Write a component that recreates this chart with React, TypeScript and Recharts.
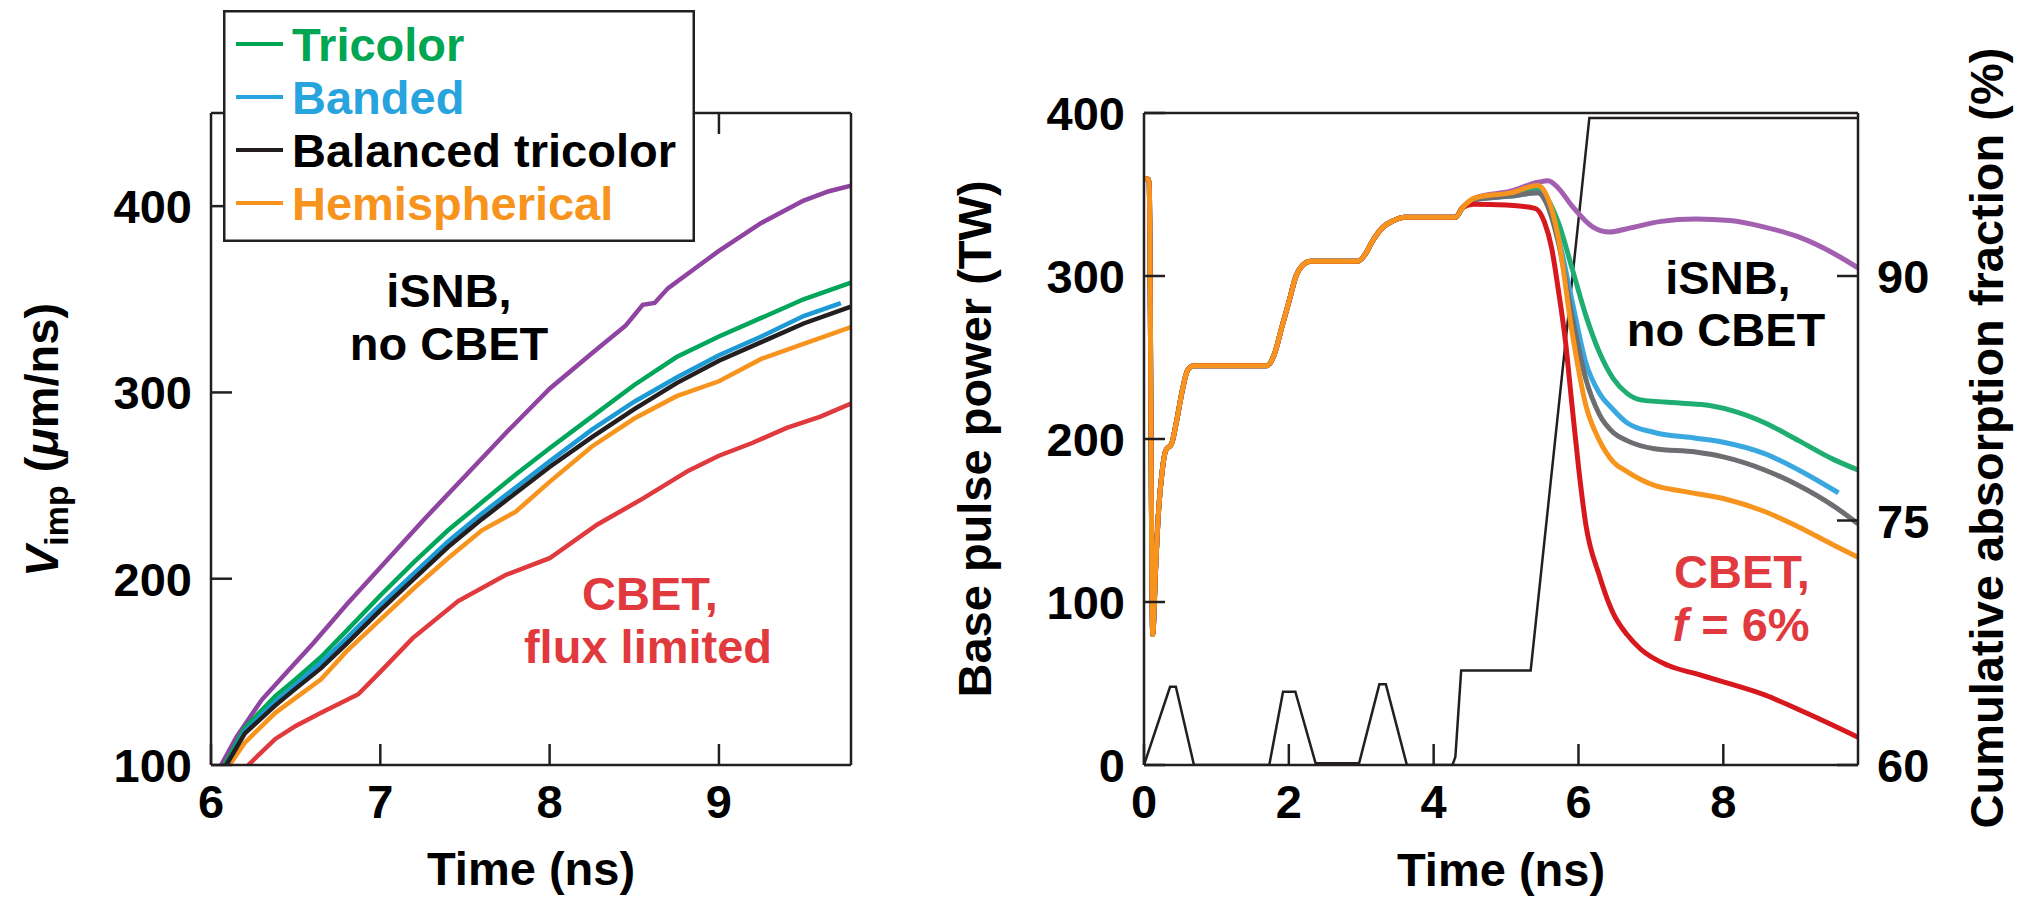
import { Legend, Line, LineChart, XAxis, YAxis } from "recharts";

const FONT = "'Liberation Sans', Arial, Helvetica, sans-serif";
const INK = "#231f20";
const RED_TEXT = "#e13a3e";

// ---------- left panel: V_imp (um/ns) vs time (ns) ----------
const velTicksX = [6, 7, 8, 9];
const velTicksY = [100, 200, 300, 400];

const velPurple = [
	[6.06, 100], [6.15, 115], [6.3, 135], [6.45, 150], [6.6, 165], [6.8, 186], [7.0, 206], [7.25, 231],
	[7.5, 255], [7.75, 279], [8.0, 302], [8.25, 321], [8.45, 336], [8.55, 347], [8.62, 348], [8.7, 356],
	[8.85, 366], [9.0, 376], [9.25, 391], [9.5, 403], [9.65, 408], [9.78, 411],
];
const velTricolor = [
	[6.08, 100], [6.2, 120], [6.38, 137], [6.5, 146], [6.65, 158], [6.8, 172], [7.0, 191], [7.2, 209],
	[7.4, 226], [7.6, 241], [7.8, 256], [8.0, 270], [8.25, 287], [8.5, 304], [8.75, 319], [9.0, 330],
	[9.25, 340], [9.5, 350], [9.78, 359],
];
const velBanded = [
	[6.09, 100], [6.2, 118], [6.38, 134], [6.5, 143], [6.65, 155], [6.8, 168], [7.0, 186], [7.2, 203],
	[7.4, 220], [7.6, 235], [7.8, 249], [8.0, 263], [8.25, 280], [8.5, 295], [8.75, 308], [9.0, 320],
	[9.25, 330], [9.5, 341], [9.72, 348],
];
const velBalanced = [
	[6.09, 100], [6.2, 117], [6.38, 132], [6.5, 141], [6.65, 152], [6.8, 165], [7.0, 183], [7.2, 200],
	[7.4, 217], [7.6, 232], [7.8, 246], [8.0, 260], [8.25, 276], [8.5, 291], [8.75, 305], [9.0, 317],
	[9.25, 327], [9.5, 337], [9.78, 346],
];
const velHemi = [
	[6.11, 100], [6.2, 112], [6.38, 128], [6.5, 136], [6.65, 146], [6.8, 161], [7.0, 178], [7.2, 195],
	[7.4, 211], [7.6, 226], [7.8, 236], [7.85, 240], [8.0, 252], [8.25, 271], [8.5, 286], [8.75, 298],
	[9.0, 306], [9.25, 318], [9.5, 326], [9.78, 335],
];
const velCbet = [
	[6.22, 100], [6.38, 114], [6.5, 121], [6.65, 128], [6.87, 138], [7.0, 150], [7.19, 168], [7.46, 188],
	[7.74, 202], [8.0, 211], [8.28, 229], [8.55, 243], [8.82, 258], [9.0, 266], [9.2, 273], [9.4, 281],
	[9.6, 287], [9.78, 294],
];

const legendNames = ["Tricolor", "Banded", "Balanced tricolor", "Hemispherical"];
const legendColors = ["#00a651", "#27a3dd", INK, "#f7941d"];

// ---------- right panel: base pulse power (TW) and absorption (%) ----------
const powTicksX = [0, 2, 4, 6, 8];
const powTicksY = [0, 100, 200, 300, 400];
const absTicks = [60, 75, 90];

const pulseEarly = [
	[0, 360], [0.07, 359], [0.12, 80], [0.16, 120], [0.2, 155], [0.25, 180], [0.3, 193], [0.38, 197],
	[0.45, 211], [0.53, 230], [0.6, 242], [0.68, 245], [1.7, 245], [1.8, 252], [1.9, 268], [2.0, 284],
	[2.1, 300], [2.2, 307], [2.3, 309], [2.95, 309], [3.05, 313], [3.15, 321], [3.3, 330], [3.45, 334],
	[3.6, 336], [4.3, 336],
];
const tailPurple = [
	[4.4, 342], [4.58, 348], [5.06, 352], [5.44, 357.5], [5.58, 358.5], [5.72, 354], [5.91, 343], [6.2, 330],
	[6.43, 327], [6.67, 329], [7.14, 333.5], [7.62, 335], [8.09, 334], [8.57, 330], [9.04, 324], [9.52, 314],
	[9.86, 305],
];
const tailCbet = [
	[4.4, 342], [4.55, 344], [5.0, 343.5], [5.4, 341.5], [5.53, 333], [5.63, 317], [5.72, 292], [5.82, 260],
	[5.91, 221], [6.0, 183], [6.1, 148], [6.29, 116], [6.48, 93], [6.67, 80], [6.86, 71], [7.24, 61],
	[7.62, 56], [8.0, 51], [8.57, 43], [9.14, 32], [9.86, 17],
];
const tailTricolor = [
	[4.4, 342], [4.58, 347], [5.06, 350], [5.44, 353], [5.53, 350], [5.72, 333], [5.91, 305], [6.1, 276],
	[6.29, 253], [6.48, 237], [6.67, 228], [6.86, 224], [7.43, 222], [7.81, 220.5], [8.19, 216.5],
	[8.57, 210], [9.04, 199], [9.52, 187.5], [9.86, 181],
];
const tailBanded = [
	[4.4, 342], [4.58, 347], [5.06, 349], [5.44, 351], [5.53, 348], [5.72, 324], [5.91, 285], [6.1, 247],
	[6.29, 228], [6.48, 218], [6.67, 210], [7.05, 204], [7.62, 200.5], [8.0, 198], [8.57, 191], [9.04, 181],
	[9.59, 167],
];
const tailBalanced = [
	[4.4, 342], [4.58, 347], [5.06, 349], [5.44, 351], [5.53, 347], [5.72, 321], [5.91, 276], [6.1, 237],
	[6.29, 215], [6.48, 204], [6.67, 199], [7.05, 194], [7.62, 192], [8.0, 189], [8.57, 181], [9.04, 171.5],
	[9.52, 159], [9.86, 148],
];
const tailHemi = [
	[4.4, 342], [4.58, 348], [5.06, 351], [5.44, 355.5], [5.53, 352], [5.72, 324], [5.91, 266], [6.1, 221],
	[6.29, 199], [6.48, 186], [6.67, 180], [7.05, 171.5], [7.43, 168], [8.0, 163.5], [8.57, 155.5],
	[9.04, 146], [9.52, 135], [9.86, 127.5],
];
const absorption = [
	[0, 60], [0.36, 64.8], [0.44, 64.8], [0.69, 60], [1.73, 60], [1.92, 64.5], [2.09, 64.5], [2.37, 60.1],
	[2.97, 60.1], [3.25, 64.95], [3.34, 64.95], [3.63, 60], [4.26, 60], [4.3, 60.5], [4.38, 65.8],
	[5.34, 65.8], [6.15, 99.7], [9.86, 99.7],
];

const pts = (rows: number[][]) => rows.map(([t, v]) => ({ t, v }));
const pulse = (tail: number[][]) => pts([...pulseEarly, ...tail]);

// plot frames (page px)
const L = { left: 211, right: 851, top: 113, bottom: 765 };
const OX = 900;
const R = { left: 1144 - OX, right: 1858 - OX, top: 113, bottom: 765 };

const labelStyle = { fontFamily: FONT, fontWeight: 700, fontSize: 47 } as const;

const bottomTick = (bottom: number, showText = true) => (p: any) => (
	<g>
		<line x1={p.x} y1={bottom} x2={p.x} y2={bottom - 21} stroke={INK} strokeWidth={2.5} />
		{showText && (
			<text x={p.x} y={bottom + 53} textAnchor="middle" fill="#000" {...labelStyle}>
				{p.payload.value}
			</text>
		)}
	</g>
);
const topTick = (top: number) => (p: any) => (
	<line x1={p.x} y1={top} x2={p.x} y2={top + 21} stroke={INK} strokeWidth={2.5} />
);
const leftTick = (left: number) => (p: any) => (
	<g>
		<line x1={left} y1={p.y} x2={left + 21} y2={p.y} stroke={INK} strokeWidth={2.5} />
		<text x={left - 19} y={p.y + 17} textAnchor="end" fill="#000" {...labelStyle}>
			{p.payload.value}
		</text>
	</g>
);
const rightTick = (right: number, showText: boolean) => (p: any) => (
	<g>
		<line x1={right} y1={p.y} x2={right - 21} y2={p.y} stroke={INK} strokeWidth={2.5} />
		{showText && (
			<text x={right + 19} y={p.y + 17} textAnchor="start" fill="#000" {...labelStyle}>
				{p.payload.value}
			</text>
		)}
	</g>
);

function LegendBox() {
	return (
		<svg width={472} height={232} style={{ display: "block" }}>
			<rect x={1.25} y={1.25} width={469.5} height={229.5} fill="#fff" stroke={INK} strokeWidth={2.5} />
			{legendNames.map((name, i) => {
				const cy = 34 + i * 53;
				return (
					<g key={name}>
						<line x1={13} y1={cy} x2={60} y2={cy} stroke={legendColors[i]} strokeWidth={4} />
						<text x={69} y={cy + 17} fill={i === 2 ? "#000" : legendColors[i]} {...labelStyle}>
							{name}
						</text>
					</g>
				);
			})}
		</svg>
	);
}

const axisLine = { stroke: INK, strokeWidth: 2.5 };
const overlay = { position: "absolute", left: 0, top: 0, pointerEvents: "none" } as const;

function VelocityPanel() {
	const lw = 4.5;
	return (
		<div style={{ position: "relative", width: OX, height: 899 }}>
			<LineChart width={OX} height={899} margin={{ top: 103, right: 39, bottom: 104, left: 151 }}>
				<XAxis type="number" dataKey="t" domain={[6, 9.78]} ticks={velTicksX} allowDataOverflow
					height={30} axisLine={axisLine} tickLine={false} tick={bottomTick(L.bottom)} />
				<XAxis xAxisId="top" orientation="top" type="number" dataKey="t" domain={[6, 9.78]} ticks={[7, 8, 9]}
					allowDataOverflow height={10} axisLine={axisLine} tickLine={false} tick={topTick(L.top)} />
				<YAxis type="number" domain={[100, 450]} ticks={velTicksY} allowDataOverflow width={60}
					axisLine={axisLine} tickLine={false} tick={leftTick(L.left)} />
				<YAxis yAxisId="r" orientation="right" type="number" domain={[100, 450]} ticks={[200, 300, 400]}
					width={10} axisLine={axisLine} tickLine={false} tick={rightTick(L.right, false)} />
				<Line data={pts(velPurple)} dataKey="v" stroke="#8e44a0" strokeWidth={lw} dot={false} legendType="none" isAnimationActive={false} />
				<Line data={pts(velCbet)} dataKey="v" stroke="#e0393e" strokeWidth={lw} dot={false} legendType="none" isAnimationActive={false} />
				<Line data={pts(velTricolor)} dataKey="v" name="Tricolor" stroke="#00a65a" strokeWidth={lw} dot={false} isAnimationActive={false} />
				<Line data={pts(velHemi)} dataKey="v" name="Hemispherical" stroke="#f7941d" strokeWidth={lw} dot={false} isAnimationActive={false} />
				<Line data={pts(velBanded)} dataKey="v" name="Banded" stroke="#1c9ad6" strokeWidth={lw} dot={false} isAnimationActive={false} />
				<Line data={pts(velBalanced)} dataKey="v" name="Balanced tricolor" stroke={INK} strokeWidth={lw} dot={false} isAnimationActive={false} />
				<Legend verticalAlign="middle" layout="horizontal" content={() => <LegendBox />}
					wrapperStyle={{ left: 223, top: 10, width: 472, height: 232 }} />
			</LineChart>
			<svg width={OX} height={899} style={overlay}>
				<text transform="rotate(-90, 58, 440)" x={58} y={440} textAnchor="middle" fill="#000" {...labelStyle}>
					<tspan fontStyle="italic">V</tspan>
					<tspan fontSize={34} dy={10}>imp</tspan>
					<tspan dy={-10}> (</tspan>
					<tspan fontStyle="italic">μ</tspan>
					<tspan>m/ns)</tspan>
				</text>
				<text x={531} y={885} textAnchor="middle" fill="#000" {...labelStyle}>Time (ns)</text>
				<text x={449} y={307} textAnchor="middle" fill="#000" {...labelStyle}>iSNB,</text>
				<text x={449} y={360} textAnchor="middle" fill="#000" {...labelStyle}>no CBET</text>
				<text x={650} y={610} textAnchor="middle" fill={RED_TEXT} {...labelStyle}>CBET,</text>
				<text x={648} y={663} textAnchor="middle" fill={RED_TEXT} {...labelStyle}>flux limited</text>
			</svg>
		</div>
	);
}

function PulsePanel() {
	const lw = 5;
	const W = 2017 - OX;
	return (
		<div style={{ position: "relative", width: W, height: 899 }}>
			<LineChart width={W} height={899} margin={{ top: 103, right: 99, bottom: 104, left: 184 }}>
				<XAxis type="number" dataKey="t" domain={[0, 9.86]} ticks={powTicksX} allowDataOverflow
					height={30} axisLine={axisLine} tickLine={false} tick={bottomTick(R.bottom)} />
				<XAxis xAxisId="top" orientation="top" type="number" dataKey="t" domain={[0, 9.86]}
					height={10} axisLine={axisLine} tickLine={false} tick={false} />
				<YAxis yAxisId="pow" type="number" domain={[0, 400]} ticks={powTicksY} allowDataOverflow width={60}
					axisLine={axisLine} tickLine={false} tick={leftTick(R.left)} />
				<YAxis yAxisId="abs" orientation="right" type="number" domain={[60, 100]} ticks={absTicks}
					allowDataOverflow width={60} axisLine={axisLine} tickLine={false} tick={rightTick(R.right, true)} />
				<Line yAxisId="abs" data={pts(absorption)} dataKey="v" type="linear" stroke={INK} strokeWidth={2.5} dot={false} isAnimationActive={false} />
				<Line yAxisId="pow" data={pulse(tailPurple)} dataKey="v" type="monotone" stroke="#a35fb0" strokeWidth={lw} dot={false} isAnimationActive={false} />
				<Line yAxisId="pow" data={pulse(tailTricolor)} dataKey="v" type="monotone" stroke="#20ad72" strokeWidth={lw} dot={false} isAnimationActive={false} />
				<Line yAxisId="pow" data={pulse(tailBanded)} dataKey="v" type="monotone" stroke="#3aa8e0" strokeWidth={lw} dot={false} isAnimationActive={false} />
				<Line yAxisId="pow" data={pulse(tailBalanced)} dataKey="v" type="monotone" stroke="#6d6e71" strokeWidth={lw} dot={false} isAnimationActive={false} />
				<Line yAxisId="pow" data={pulse(tailCbet)} dataKey="v" type="monotone" stroke="#d7191f" strokeWidth={lw} dot={false} isAnimationActive={false} />
				<Line yAxisId="pow" data={pulse(tailHemi)} dataKey="v" type="monotone" stroke="#f7941d" strokeWidth={lw} dot={false} isAnimationActive={false} />
			</LineChart>
			<svg width={W} height={899} style={overlay}>
				<text transform="rotate(-90, 91, 439)" x={91} y={439} textAnchor="middle" fill="#000" {...labelStyle}>
					Base pulse power (TW)
				</text>
				<text transform="rotate(-90, 1103, 438)" x={1103} y={438} textAnchor="middle" fill="#000" {...labelStyle}>
					Cumulative absorption fraction (%)
				</text>
				<text x={601} y={886} textAnchor="middle" fill="#000" {...labelStyle}>Time (ns)</text>
				<text x={828} y={294} textAnchor="middle" fill="#000" {...labelStyle}>iSNB,</text>
				<text x={826} y={346} textAnchor="middle" fill="#000" {...labelStyle}>no CBET</text>
				<text x={842} y={588} textAnchor="middle" fill={RED_TEXT} {...labelStyle}>CBET,</text>
				<text x={841} y={641} textAnchor="middle" fill={RED_TEXT} {...labelStyle}>
					<tspan fontStyle="italic">f</tspan> = 6%
				</text>
			</svg>
		</div>
	);
}

export default function App() {
	return (
		<div style={{ position: "absolute", left: 0, top: 0, width: 2017, height: 899, display: "flex", background: "#fff" }}>
			<VelocityPanel />
			<PulsePanel />
		</div>
	);
}
